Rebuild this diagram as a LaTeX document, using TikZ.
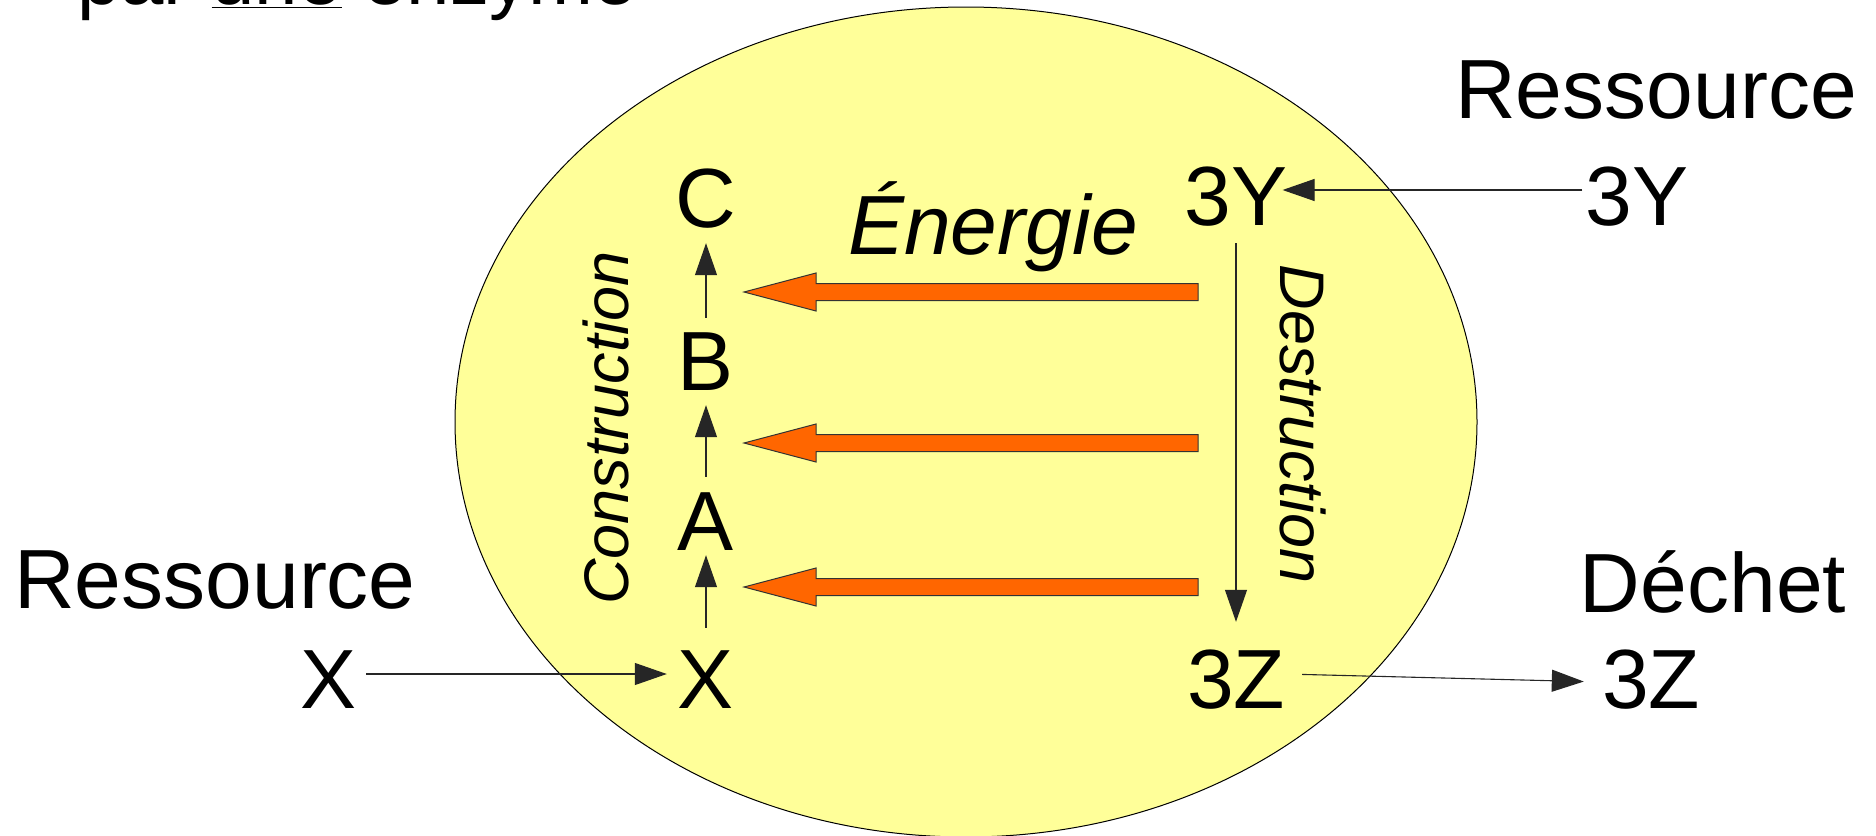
\documentclass[tikz,border=0pt]{standalone}
\usepackage{fontspec}
\setmainfont{Liberation Sans}
\usetikzlibrary{arrows.meta}
\definecolor{cellyellow}{HTML}{FFFF99}
\definecolor{energyorange}{HTML}{FF6600}
\newcommand\bigtxt{\fontsize{84}{100}\selectfont}
\newcommand\midtxt{\fontsize{63}{75}\selectfont\itshape}
\tikzset{
  lbl/.style={font=\bigtxt, inner sep=0pt, text height=60pt, text depth=0pt, anchor=base},
  conn/.style={line width=1.1pt, draw=black!85, -{Triangle[length=32pt,width=22pt]}},
  energyarrow/.style={fill=energyorange, draw=black!80, line width=1pt, line join=miter},
}
\begin{document}
\begin{tikzpicture}[x=1pt,y=-1pt]
\useasboundingbox (0,0) rectangle (1876,835);
% cell
\draw[fill=cellyellow, line width=1pt] (966,422) ellipse [x radius=511pt, y radius=415pt];
% title (cut off)
\node[font=\fontsize{78}{90}\selectfont, inner sep=0pt, anchor=base west] (title) at (77,5) {par \underline{une} enzyme};
% labels
\node[lbl] (C) at (706,227) {C};
\node[lbl] (B) at (706,390) {B};
\node[lbl] (A) at (706,550) {A};
\node[lbl] (Xin) at (706,708) {X};
\node[lbl] (Xout) at (329,708) {X};
\node[lbl] (resX) at (215,608) {Ressource};
\node[lbl] (Yin) at (1236,225) {3Y};
\node[lbl] (Yout) at (1637,225) {3Y};
\node[lbl] (resY) at (1656,118) {Ressource};
\node[lbl] (Zin) at (1236,708) {3Z};
\node[lbl] (Zout) at (1651,708) {3Z};
\node[lbl] (dechet) at (1713,612) {Déchet};
\node[font=\bigtxt\itshape, inner sep=0pt, anchor=base] (energie) at (993,254) {Énergie};
\node[font=\midtxt, inner sep=0pt, anchor=base, rotate=90] (constr) at (628,428) {Construction};
\node[font=\midtxt, inner sep=0pt, anchor=base, rotate=-90] (destr) at (1280,424) {Destruction};
% construction chain
\draw[conn, shorten <=20pt, shorten >=5pt] (Xin) -- (A);
\draw[conn, shorten <=13pt, shorten >=15pt] (A) -- (B);
\draw[conn, shorten <=12pt, shorten >=16pt] (B) -- (C);
% destruction
\draw[conn, shorten <=18pt, shorten >=26pt] (Yin) -- (Zin);
% inputs / outputs
\draw[conn, shorten <=9pt, shorten >=11pt] ([yshift=4pt]Xout.east) -- ([yshift=4pt]Xin.west);
\draw[conn, shorten <=3pt, shorten >=-5pt] ([yshift=5pt]Yout.west) -- ([yshift=5pt]Yin.east);
\draw[conn, shorten <=17pt, shorten >=18pt] ([yshift=4pt]Zin.east) -- ([yshift=-4pt]Zout.west);
% energy arrows
\foreach \yy in {292,443,587}{
  \draw[energyarrow] (1198,{\yy-8.5}) -- (816,{\yy-8.5}) -- (816,{\yy-19}) -- (744,\yy)
    -- (816,{\yy+19}) -- (816,{\yy+8.5}) -- (1198,{\yy+8.5}) -- cycle;
}
\end{tikzpicture}
\end{document}
